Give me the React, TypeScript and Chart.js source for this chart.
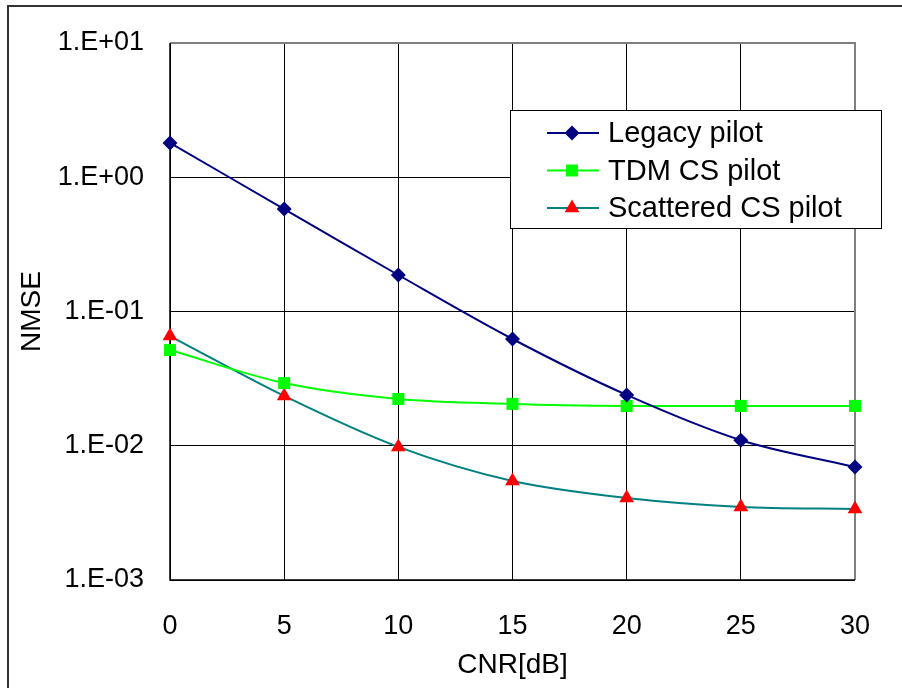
import { useEffect, useRef } from 'react';
import { Chart, registerables } from 'chart.js';

Chart.register(...registerables);

// ---- data ----
const cnrValues = [0, 5, 10, 15, 20, 25, 30];
const legacyPilot = [1.8, 0.58, 0.187, 0.0624, 0.0239, 0.011, 0.00695];
const tdmCsPilot = [0.0516, 0.0293, 0.0223, 0.0205, 0.0198, 0.0198, 0.0198];
const scatteredCsPilot = [0.0656, 0.0235, 0.0098, 0.00546, 0.00408, 0.0035, 0.00338];
const seriesNames = ['Legacy pilot', 'TDM CS pilot', 'Scattered CS pilot'];
const yTickValues = [0.001, 0.01, 0.1, 1, 10];
const yTickLabels = ['1.E-03', '1.E-02', '1.E-01', '1.E+00', '1.E+01'];
const xTitle = 'CNR[dB]';
const yTitle = 'NMSE';

const FONT = '"Liberation Sans", Arial, sans-serif';

type Style = { line: string; marker: string; shape: 'diamond' | 'square' | 'triangle' };
const styles: Style[] = [
  { line: '#000080', marker: '#000080', shape: 'diamond' },
  { line: '#00ff00', marker: '#00ff00', shape: 'square' },
  { line: '#008080', marker: '#ff0000', shape: 'triangle' },
];

function drawMarker(ctx: CanvasRenderingContext2D, shape: string, x: number, y: number, color: string) {
  ctx.save();
  ctx.fillStyle = color;
  ctx.beginPath();
  if (shape === 'diamond') {
    const r = 7.5;
    ctx.moveTo(x - r, y);
    ctx.lineTo(x, y - r);
    ctx.lineTo(x + r, y);
    ctx.lineTo(x, y + r);
  } else if (shape === 'square') {
    const h = 6;
    ctx.rect(x - h, y - h, 2 * h, 2 * h);
  } else {
    const r = 8.5;
    ctx.moveTo(x, y - r);
    ctx.lineTo(x + r * 0.866, y + r * 0.5);
    ctx.lineTo(x - r * 0.866, y + r * 0.5);
  }
  ctx.closePath();
  ctx.fill();
  ctx.restore();
}

const decorPlugin = {
  id: 'decor',
  beforeDatasetsDraw(chart: any) {
    const { ctx, chartArea: a } = chart;
    ctx.save();
    ctx.strokeStyle = '#808080';
    ctx.lineWidth = 2;
    ctx.beginPath();
    ctx.moveTo(a.left, a.top);
    ctx.lineTo(a.right, a.top);
    ctx.lineTo(a.right, a.bottom);
    ctx.stroke();
    ctx.strokeStyle = '#000';
    ctx.lineWidth = 1.5;
    ctx.beginPath();
    ctx.moveTo(a.left, a.top);
    ctx.lineTo(a.left, a.bottom);
    ctx.lineTo(a.right, a.bottom);
    ctx.stroke();
    ctx.restore();
  },
  afterDraw(chart: any) {
    const { ctx, chartArea: a } = chart;
    ctx.save();
    // outer frame (left + top)
    ctx.strokeStyle = '#333';
    ctx.lineWidth = 2;
    ctx.beginPath();
    ctx.moveTo(8, 700);
    ctx.lineTo(8, 6);
    ctx.lineTo(910, 6);
    ctx.stroke();

    // legend
    const bx = a.right - 345;
    const by = a.top + 67;
    const bw = 371;
    const bh = 118;
    ctx.fillStyle = '#fff';
    ctx.fillRect(bx, by, bw, bh);
    ctx.strokeStyle = '#000';
    ctx.lineWidth = 1;
    ctx.strokeRect(bx + 0.5, by + 0.5, bw, bh);
    ctx.font = `29px ${FONT}`;
    ctx.textBaseline = 'middle';
    ctx.textAlign = 'left';
    chart.data.datasets.forEach((ds: any, i: number) => {
      const st = styles[i];
      const y = by + 23 + i * 37.5;
      ctx.strokeStyle = st.line;
      ctx.lineWidth = 2;
      ctx.beginPath();
      ctx.moveTo(bx + 37, y);
      ctx.lineTo(bx + 89, y);
      ctx.stroke();
      drawMarker(ctx, st.shape, bx + 62, y, st.marker);
      ctx.fillStyle = '#000';
      ctx.fillText(ds.label, bx + 98, y + 1);
    });
    ctx.restore();
  },
};

export default function App() {
  const ref = useRef<HTMLCanvasElement | null>(null);

  useEffect(() => {
    if (!ref.current) return;
    const series = [legacyPilot, tdmCsPilot, scatteredCsPilot];
    const pointStyles = ['rectRot', 'rect', 'triangle'];
    const radii = [7.5, 8.5, 8.5];
    const chart = new Chart(ref.current, {
      type: 'line',
      data: {
        datasets: series.map((vals, i) => ({
          label: seriesNames[i],
          data: cnrValues.map((x, j) => ({ x, y: vals[j] })),
          borderColor: styles[i].line,
          backgroundColor: styles[i].marker,
          pointBackgroundColor: styles[i].marker,
          pointBorderColor: styles[i].marker,
          pointBorderWidth: 0,
          pointStyle: pointStyles[i] as any,
          pointRadius: radii[i],
          borderWidth: 2,
          tension: 0.33,
          fill: false,
          clip: false as any,
        })),
      },
      options: {
        animation: false,
        responsive: false,
        maintainAspectRatio: false,
        layout: { padding: { top: 43, right: 47, left: 0, bottom: 0 } },
        plugins: { legend: { display: false }, tooltip: { enabled: false } },
        scales: {
          x: {
            type: 'linear',
            min: 0,
            max: 30,
            afterBuildTicks: (s: any) => {
              s.ticks = cnrValues.map((v) => ({ value: v }));
            },
            afterFit: (s: any) => {
              s.height = 108;
            },
            ticks: {
              color: '#000',
              font: { family: FONT, size: 27 },
              padding: 30,
              maxRotation: 0,
            },
            grid: { color: '#000', lineWidth: 1, drawTicks: false },
            border: { display: false },
            title: {
              display: true,
              text: xTitle,
              color: '#000',
              font: { family: FONT, size: 28 },
              padding: { top: 0, bottom: 6 },
            },
          },
          y: {
            type: 'logarithmic',
            min: 0.001,
            max: 10,
            afterBuildTicks: (s: any) => {
              s.ticks = yTickValues.map((v) => ({ value: v }));
            },
            afterFit: (s: any) => {
              s.width = 170;
            },
            ticks: {
              color: '#000',
              font: { family: FONT, size: 27 },
              padding: 26,
              callback: (_v: any, i: number) => yTickLabels[i],
            },
            grid: { color: '#000', lineWidth: 1, drawTicks: false },
            border: { display: false },
            title: {
              display: true,
              text: yTitle,
              color: '#000',
              font: { family: FONT, size: 28 },
              padding: { top: 15, bottom: 0 },
            },
          },
        },
      },
      plugins: [decorPlugin],
    });
    return () => chart.destroy();
  }, []);

  return (
    <div style={{ position: 'fixed', left: 0, top: 0, width: 902, height: 688, background: '#fff' }}>
      <canvas ref={ref} width={902} height={688} style={{ display: 'block' }} />
    </div>
  );
}
